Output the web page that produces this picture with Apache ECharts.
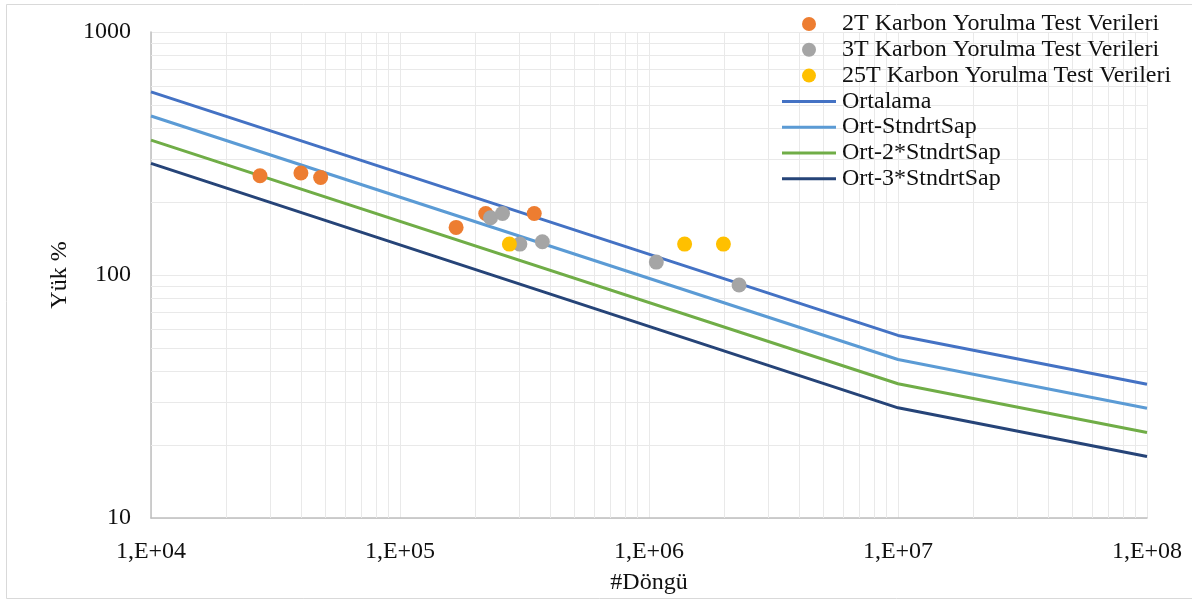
<!DOCTYPE html>
<html>
<head>
<meta charset="utf-8">
<script src="https://cdn.jsdelivr.net/npm/echarts@6/dist/echarts.min.js"></script>
<style>
  html, body { margin: 0; padding: 0; background: #fff; }
  #chart { width: 1192px; height: 600px; }
</style>
</head>
<body>
<div id="chart"></div>
<script>
// Fatigue test results (cycles vs load %) and S-N design curves
const series2T = [[27400, 256], [40000, 263], [48000, 252], [168000, 157], [221000, 179], [346000, 179]];
const series3T = [[231000, 172], [258000, 179], [303000, 134], [373000, 137], [1070000, 113], [2300000, 91]];
const series25T = [[275000, 134], [1390000, 134], [1990000, 134]];

const curveCycles = [1e4, 1e7, 1e8];
const ortalama = [567, 56.4, 35.5];
const ortStd1 = [451, 44.9, 28.3];
const ortStd2 = [359, 35.7, 22.5];
const ortStd3 = [288, 28.4, 17.9];

const xTickLabels = ['1,E+04', '1,E+05', '1,E+06', '1,E+07', '1,E+08'];
const yTickLabels = ['10', '100', '1000'];

const xMinorGrid = [];
const yMinorGrid = [];
for (let e = 4; e < 8; e++) for (let m = 2; m <= 9; m++) xMinorGrid.push(m * Math.pow(10, e));
for (let e = 1; e < 3; e++) for (let m = 2; m <= 9; m++) yMinorGrid.push(m * Math.pow(10, e));

const font = 'Liberation Serif';
const fontSize = 24;
const textColor = '#111';
const gridColor = '#E9E9E9';

const pair = (xs, ys) => xs.map((x, i) => [x, ys[i]]);

const chart = echarts.init(document.getElementById('chart'));

const lineSeries = (name, values, color) => ({
  name, type: 'line', data: pair(curveCycles, values),
  symbol: 'none', showSymbol: false, z: 3,
  lineStyle: { color, width: 3 }, itemStyle: { color }
});

const scatterSeries = (name, data, color) => ({
  name, type: 'scatter', data, symbolSize: 15, z: 4,
  itemStyle: { color, opacity: 1 }
});

// plain horizontal bar used as the legend key of the curves
const lineIcon = 'path://M0,0H54V3H0Z';

chart.setOption({
  animation: false,
  backgroundColor: '#fff',
  textStyle: { fontFamily: font },
  graphic: [{
    type: 'rect', shape: { x: 6.5, y: 4.5, width: 1200, height: 594 },
    style: { fill: 'none', stroke: '#D9D9D9', lineWidth: 1 }, silent: true, z: -1
  }],
  grid: { left: 151, right: 45, top: 32, bottom: 78 },
  legend: {
    orient: 'vertical', left: 782, top: 12, padding: 0,
    itemWidth: 54, itemHeight: 14, itemGap: 1.8,
    symbolKeepAspect: true,
    selectedMode: false,
    textStyle: { fontFamily: font, fontSize, color: textColor, lineHeight: 24, padding: [0, 0, 0, 1] },
    data: [
      { name: '2T Karbon Yorulma Test Verileri', icon: 'circle' },
      { name: '3T Karbon Yorulma Test Verileri', icon: 'circle' },
      { name: '25T Karbon Yorulma Test Verileri', icon: 'circle' },
      { name: 'Ortalama', icon: lineIcon },
      { name: 'Ort-StndrtSap', icon: lineIcon },
      { name: 'Ort-2*StndrtSap', icon: lineIcon },
      { name: 'Ort-3*StndrtSap', icon: lineIcon }
    ]
  },
  xAxis: {
    type: 'log', logBase: 10, min: 1e4, max: 1e8,
    name: '#Döngü', nameLocation: 'middle', nameGap: 53,
    nameTextStyle: { fontFamily: font, fontSize, color: textColor },
    axisLine: { lineStyle: { color: '#BFBFBF', width: 1.5 } },
    axisTick: { show: false },
    axisLabel: {
      fontFamily: font, fontSize, color: textColor, margin: 22,
      formatter: v => xTickLabels[Math.round(Math.log10(v)) - 4]
    },
    splitLine: { show: true, lineStyle: { color: gridColor, width: 1 } }
  },
  yAxis: {
    type: 'log', logBase: 10, min: 10, max: 1000,
    name: 'Yük %', nameLocation: 'middle', nameGap: 77, nameRotate: 90,
    nameTextStyle: { fontFamily: font, fontSize, color: textColor },
    axisLine: { show: true, lineStyle: { color: '#BFBFBF', width: 1.5 } },
    axisTick: { show: false },
    axisLabel: {
      fontFamily: font, fontSize, color: textColor, margin: 20,
      formatter: v => yTickLabels[Math.round(Math.log10(v)) - 1]
    },
    splitLine: { show: true, lineStyle: { color: gridColor, width: 1 } }
  },
  series: [
    {
      // minor log grid lines at 2..9 within each decade
      name: 'minor-grid', type: 'line', data: [], z: 1, silent: true,
      markLine: {
        z: 1, silent: true, symbol: 'none', label: { show: false }, animation: false,
        lineStyle: { color: gridColor, width: 1, type: 'solid' },
        emphasis: { disabled: true },
        data: xMinorGrid.map(v => ({ xAxis: v })).concat(yMinorGrid.map(v => ({ yAxis: v })))
      }
    },
    lineSeries('Ortalama', ortalama, '#4472C4'),
    lineSeries('Ort-StndrtSap', ortStd1, '#5B9BD5'),
    lineSeries('Ort-2*StndrtSap', ortStd2, '#70AD47'),
    lineSeries('Ort-3*StndrtSap', ortStd3, '#264478'),
    scatterSeries('2T Karbon Yorulma Test Verileri', series2T, '#ED7D31'),
    scatterSeries('3T Karbon Yorulma Test Verileri', series3T, '#A5A5A5'),
    scatterSeries('25T Karbon Yorulma Test Verileri', series25T, '#FFC000')
  ]
});
</script>
</body>
</html>
